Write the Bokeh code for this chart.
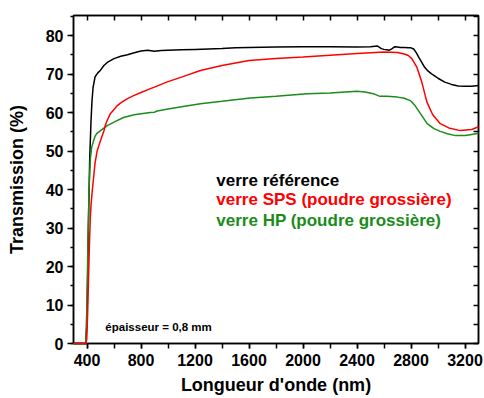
from bokeh.plotting import figure
from bokeh.models import LinearAxis, SingleIntervalTicker, Range1d, Label, CustomJSTickFormatter
from bokeh.embed import file_html
from bokeh.resources import INLINE

# ---------------- data ----------------
wl_ref = [300, 390, 400, 410, 420, 430, 437, 445, 460, 480, 500, 525, 550, 600, 650, 700,
          750, 800, 850, 900, 950, 1000, 1100, 1200, 1300, 1400, 1500, 1600, 1800, 2000,
          2200, 2400, 2500, 2550, 2580, 2600, 2620, 2640, 2660, 2680, 2700, 2720, 2750,
          2780, 2800, 2820, 2840, 2860, 2880, 2900, 2925, 2950, 2975, 3000, 3050, 3100,
          3150, 3200, 3250, 3300]
t_ref = [0, 0, 5, 30, 48, 58, 63, 66.5, 69.3, 70.3, 71.0, 72.2, 73.0, 74.0, 74.6, 75.0,
         75.5, 76.0, 76.2, 75.9, 76.1, 76.2, 76.3, 76.4, 76.5, 76.6, 76.8, 76.9, 77.0, 77.1,
         77.1, 77.0, 77.1, 77.3, 76.6, 76.4, 76.3, 76.2, 76.6, 77.1, 77.0, 76.9, 76.9,
         76.8, 76.8, 76.5, 75.5, 74.2, 73.0, 71.8, 70.8, 70.1, 69.5, 68.9, 67.9, 67.3,
         66.9, 66.8, 66.8, 67.0]

wl_sps = [300, 390, 398, 405, 410, 415, 420, 425, 430, 440, 450, 460, 475, 500, 525, 535,
          550, 573, 600, 625, 650, 700, 745, 800, 870, 900, 990, 1100, 1240, 1400, 1600,
          1800, 2000, 2200, 2400, 2500, 2600, 2700, 2750, 2780, 2806, 2843, 2880, 2918,
          2960, 3017, 3080, 3165, 3250, 3300]
t_sps = [0, 0, 1, 8, 15, 22, 28, 33, 36, 40, 43.5, 47, 50, 52.7, 55.2, 56.6,
         58.0, 59.7, 60.8, 61.8, 62.5, 63.6, 64.4, 65.2, 66.2, 66.6, 67.9, 69.2, 70.9, 72.2, 73.5,
         74.0, 74.4, 74.9, 75.3, 75.5, 75.7, 75.6, 75.2, 74.8, 74.0, 71.8, 67.9, 62.7,
         59.5, 57.1, 56.0, 55.3, 55.6, 56.3]

wl_hp = [300, 390, 398, 405, 415, 425, 435, 450, 462, 475, 500, 550, 600, 670, 750, 800,
         870, 900, 920, 950, 1000, 1100, 1240, 1400, 1610, 1800, 2030, 2200, 2400, 2460,
         2520, 2570, 2620, 2700, 2750, 2795, 2830, 2870, 2920, 2970, 3017, 3070, 3130,
         3200, 3250, 3300]
t_hp = [0, 0, 8, 22, 40, 48, 51, 52.8, 54.0, 54.6, 55.3, 56.6, 57.5, 58.7, 59.4, 59.7,
        60.0, 60.1, 60.4, 60.6, 60.9, 61.5, 62.3, 62.9, 63.8, 64.2, 64.9, 65.1, 65.5, 65.3,
        64.9, 64.2, 64.2, 64.0, 63.7, 63.1, 61.8, 59.7, 57.1, 55.8, 55.1, 54.5, 54.0,
        54.0, 54.3, 54.6]

series_names = ["verre référence", "verre SPS (poudre grossière)", "verre HP (poudre grossière)"]
series_colors = ["#000000", "#ff0000", "#1a8c1a"]
label_x = 1358
label_y = [42.3, 37.4, 32.0]
note_text = "épaisseur = 0,8 mm"
note_x, note_y = 536, 4.4

FONT = "Liberation Sans"

p = figure(width=484, height=398, x_range=Range1d(300, 3300), y_range=Range1d(0, 85.2),
           output_backend="svg", toolbar_location=None,
           min_border_left=73, min_border_right=6, min_border_top=15, min_border_bottom=55,
           x_axis_label="Longueur d'onde (nm)", y_axis_label="Transmission (%)")
p.grid.visible = False
p.outline_line_color = "#000000"
p.outline_line_width = 1.5
p.background_fill_color = "white"
p.border_fill_color = "white"

for xs, ys, c in [(wl_ref, t_ref, series_colors[0]), (wl_hp, t_hp, series_colors[2]),
                  (wl_sps, t_sps, series_colors[1])]:
    p.line(xs, ys, line_color=c, line_width=1.5, level="overlay")

xa = p.xaxis[0]
xa.ticker = SingleIntervalTicker(interval=400, num_minor_ticks=2)
ya = p.yaxis[0]
ya.ticker = SingleIntervalTicker(interval=10, num_minor_ticks=2)
for ax in (xa, ya):
    ax.axis_line_color = "#000000"
    ax.axis_line_width = 1.5
    ax.major_tick_line_color = "#000000"
    ax.minor_tick_line_color = "#000000"
    ax.major_tick_line_width = 1.5
    ax.minor_tick_line_width = 1.5
    ax.major_tick_in = 0
    ax.minor_tick_in = 0
    ax.major_label_text_font = FONT
    ax.major_label_text_font_style = "bold"
    ax.major_label_text_font_size = "16px"
    ax.major_label_text_color = "#000000"
    ax.axis_label_text_font = FONT
    ax.axis_label_text_font_style = "bold"
    ax.axis_label_text_font_size = "18px"
    ax.axis_label_text_color = "#000000"
xa.major_tick_out = 5
xa.minor_tick_out = 5
ya.major_tick_out = 6
ya.minor_tick_out = 3
xa.major_label_standoff = 5
xa.axis_label_standoff = 6
ya.major_label_standoff = 4
ya.axis_label_standoff = 16

# mirror axes (ticks inward, no labels)
blank = CustomJSTickFormatter(code="return ''")
top = LinearAxis(ticker=SingleIntervalTicker(interval=200, num_minor_ticks=0), formatter=blank)
right = LinearAxis(ticker=SingleIntervalTicker(interval=5, num_minor_ticks=0), formatter=blank)
for ax in (top, right):
    ax.axis_line_color = "#000000"
    ax.axis_line_width = 1.5
    ax.major_tick_line_color = "#000000"
    ax.major_tick_line_width = 1.5
    ax.major_tick_in = 5
    ax.major_tick_out = 0
    ax.minor_tick_line_color = None
    ax.major_label_standoff = 0
    ax.major_label_text_color = None
p.add_layout(top, "above")
p.add_layout(right, "right")

for name, c, yy in zip(series_names, series_colors, label_y):
    p.add_layout(Label(x=label_x, y=yy, text=name, text_color=c, text_font=FONT,
                       text_font_style="bold", text_font_size="17px",
                       text_baseline="middle", text_align="left"))
p.add_layout(Label(x=note_x, y=note_y, text=note_text, text_color="#000000", text_font=FONT,
                   text_font_style="bold", text_font_size="11.5px",
                   text_baseline="middle", text_align="left"))

open("out.html", "w").write(file_html(p, INLINE))
